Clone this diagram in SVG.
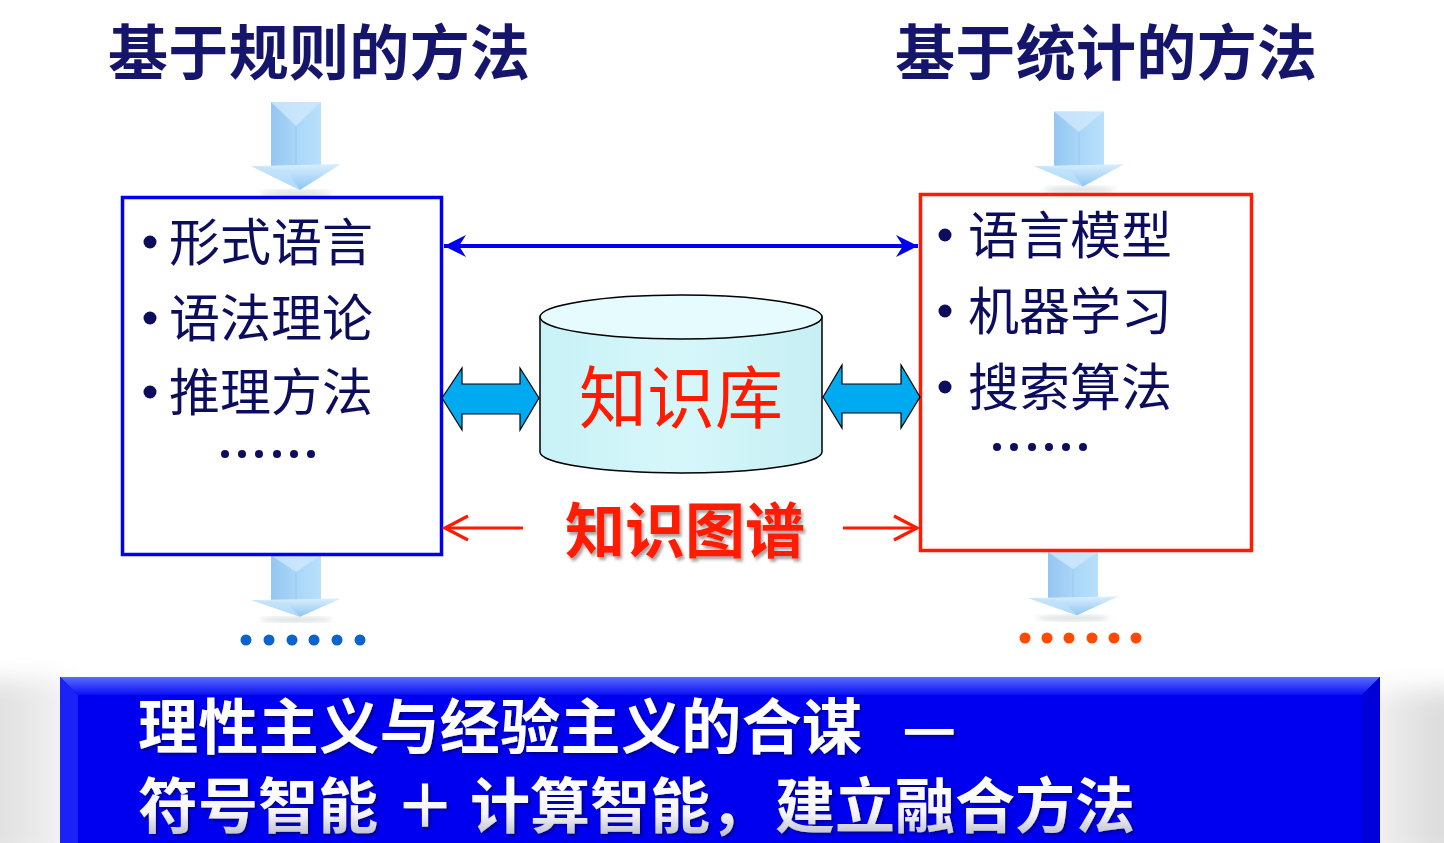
<svg xmlns="http://www.w3.org/2000/svg" width="1444" height="843" viewBox="0 0 1444 843">
<defs>
<style>
.title{font-family:"Noto Sans CJK SC","Liberation Sans",sans-serif;font-weight:700;font-size:60px;fill:#15156b;}
.item{font-family:"Noto Sans CJK SC","Liberation Sans",sans-serif;font-weight:400;font-size:51px;fill:#0d0d5e;}
.bul{fill:#0d0d5e;}
.ban{font-family:"Noto Sans CJK SC","Liberation Sans",sans-serif;font-weight:700;font-size:60px;}
.conn-blue{stroke:#0000ee;stroke-width:4;fill:none;}
.conn-red{stroke:#ff1a00;stroke-width:3;fill:none;}
.block{fill:#00aaf0;stroke:#000;stroke-width:1.2;stroke-linejoin:miter;}
</style>
<marker id="blueHead" viewBox="0 0 24 24" refX="22" refY="12" markerWidth="24" markerHeight="24" markerUnits="userSpaceOnUse" orient="auto-start-reverse">
<path d="M0,1 L22,12 L0,23 L7,12 Z" fill="#0000ee"/>
</marker>
<marker id="redHead" viewBox="0 0 26 26" refX="24" refY="13" markerWidth="26" markerHeight="26" markerUnits="userSpaceOnUse" orient="auto" overflow="visible">
<path d="M1,1 L24,13 L1,25" fill="none" stroke="#ff1a00" stroke-width="3.2"/>
</marker>
<linearGradient id="shaft" x1="0" y1="0" x2="1" y2="0">
<stop offset="0" stop-color="#94c6f2"/>
<stop offset="0.5" stop-color="#a9d6f8"/>
<stop offset="1" stop-color="#b9e0fb"/>
</linearGradient>
<linearGradient id="head" x1="0" y1="0" x2="0" y2="1">
<stop offset="0" stop-color="#d8eefd"/>
<stop offset="1" stop-color="#8fc6f2"/>
</linearGradient>
<linearGradient id="cyl" x1="0" y1="0" x2="1" y2="0">
<stop offset="0" stop-color="#c8f2f6"/>
<stop offset="0.5" stop-color="#d6f7fa"/>
<stop offset="1" stop-color="#c6eff4"/>
</linearGradient>
<linearGradient id="banTop" x1="0" y1="0" x2="0" y2="1">
<stop offset="0" stop-color="#5a6cff"/>
<stop offset="1" stop-color="#0a10f4"/>
</linearGradient>
<linearGradient id="txt2" gradientUnits="userSpaceOnUse" x1="0" y1="785" x2="0" y2="838">
<stop offset="0" stop-color="#ffffff"/>
<stop offset="0.55" stop-color="#f4f4f8"/>
<stop offset="1" stop-color="#b8b8c8"/>
</linearGradient>
<linearGradient id="cloudL" x1="0" y1="0" x2="1" y2="0">
<stop offset="0" stop-color="#dcdcdc"/>
<stop offset="1" stop-color="#f2f2f2"/>
</linearGradient>
<linearGradient id="cloudR" x1="0" y1="0" x2="1" y2="0">
<stop offset="0" stop-color="#f0f0f0"/>
<stop offset="1" stop-color="#d6d6d6"/>
</linearGradient>
<filter id="shadow" x="-10%" y="-20%" width="130%" height="150%">
<feDropShadow dx="2" dy="3" stdDeviation="1.5" flood-color="#666" flood-opacity="0.6"/>
</filter>
<filter id="shadowW" x="-5%" y="-20%" width="110%" height="150%">
<feDropShadow dx="2" dy="2" stdDeviation="1.5" flood-color="#000040" flood-opacity="0.6"/>
</filter>
<filter id="blur4"><feGaussianBlur stdDeviation="3"/></filter>
<filter id="blur12" x="-50%" y="-50%" width="200%" height="200%"><feGaussianBlur stdDeviation="12"/></filter>
<g id="downArrow">
<ellipse cx="0" cy="28" rx="36" ry="4" fill="#9aa" opacity="0.35" filter="url(#blur4)"/>
<rect x="-25" y="-64" width="50" height="66" fill="url(#shaft)"/>
<path d="M-25,-64 L25,-64 L0,-40 Z" fill="#cfe9fd" opacity="0.8"/>
<path d="M0,-40 L0,2" stroke="#8cbfee" stroke-width="1" opacity="0.6"/>
<path d="M-45,0 L45,-2 L4,24 Z" fill="url(#head)"/>
<path d="M-45,0 L4,24 L-10,4 Z" fill="#bfe2fb" opacity="0.7"/>
</g>
</defs>

<rect width="1444" height="843" fill="#ffffff"/>
<rect x="-20" y="680" width="90" height="180" fill="url(#cloudL)" filter="url(#blur12)"/>
<rect x="1372" y="690" width="90" height="170" fill="url(#cloudR)" filter="url(#blur12)"/>

<g id="title-rule">
<text class="title" x="108" y="75" textLength="422" lengthAdjust="spacing">基于规则的方法</text>
</g>
<g id="title-stat">
<text class="title" x="895" y="75" textLength="422" lengthAdjust="spacing">基于统计的方法</text>
</g>

<g id="arrow-rule-in"><use href="#downArrow" transform="translate(296,166)"/></g>
<g id="arrow-stat-in"><use href="#downArrow" transform="translate(1079,166) scale(1,0.85)"/></g>
<g id="arrow-rule-out"><use href="#downArrow" transform="translate(296,600) scale(1,0.7)"/></g>
<g id="arrow-stat-out"><use href="#downArrow" transform="translate(1073,598) scale(1,0.72)"/></g>

<g id="box-rule">
<rect x="122.5" y="197.5" width="319" height="357" fill="#fff" stroke="#0000f0" stroke-width="3.5"/>
<circle class="bul" cx="150" cy="242" r="6.5"/>
<text class="item" x="169" y="261">形式语言</text>
<circle class="bul" cx="150" cy="318" r="6.5"/>
<text class="item" x="169" y="337">语法理论</text>
<circle class="bul" cx="150" cy="392" r="6.5"/>
<text class="item" x="169" y="411">推理方法</text>
<g class="bul">
<circle cx="225" cy="454" r="4"/><circle cx="242" cy="454" r="4"/><circle cx="259" cy="454" r="4"/><circle cx="277" cy="454" r="4"/><circle cx="294" cy="454" r="4"/><circle cx="311" cy="454" r="4"/>
</g>
</g>

<g id="box-stat">
<rect x="920.5" y="194.5" width="331" height="356" fill="#fff" stroke="#ff1a00" stroke-width="3.5"/>
<circle class="bul" cx="945" cy="235" r="6.5"/>
<text class="item" x="968" y="254">语言模型</text>
<circle class="bul" cx="945" cy="311" r="6.5"/>
<text class="item" x="968" y="330">机器学习</text>
<circle class="bul" cx="945" cy="387" r="6.5"/>
<text class="item" x="968" y="406">搜索算法</text>
<g class="bul">
<circle cx="997" cy="447" r="4"/><circle cx="1014" cy="447" r="4"/><circle cx="1032" cy="447" r="4"/><circle cx="1049" cy="447" r="4"/><circle cx="1066" cy="447" r="4"/><circle cx="1083" cy="447" r="4"/>
</g>
</g>

<g id="kb">
<path d="M540,317 L540,452 A141,21 0 0,0 822,452 L822,317 Z" fill="url(#cyl)" stroke="#000" stroke-width="1.5"/>
<ellipse cx="681" cy="317" rx="141" ry="22" fill="#e6fbfd" stroke="#000" stroke-width="1.5"/>
<text x="681" y="423" text-anchor="middle" font-family="Noto Sans CJK SC, Liberation Sans, sans-serif" font-size="68" fill="#ff1a00">知识库</text>
</g>

<g id="kg-label">
<text x="685" y="553" text-anchor="middle" font-family="Noto Sans CJK SC, Liberation Sans, sans-serif" font-weight="700" font-size="60" fill="#ff1a00" filter="url(#shadow)" textLength="240" lengthAdjust="spacing">知识图谱</text>
</g>

<g id="connectors">
<line class="conn-blue" x1="444" y1="246" x2="918" y2="246" marker-start="url(#blueHead)" marker-end="url(#blueHead)"/>
<path class="block" d="M442,398 L462,368 L462,384 L520,384 L520,368 L539,398 L520,430 L520,414 L462,414 L462,430 Z"/>
<path class="block" d="M823,397 L842,365 L842,384 L901,384 L901,365 L920,397 L901,428 L901,413 L842,413 L842,428 Z"/>
<line class="conn-red" x1="523" y1="528" x2="445" y2="528" marker-end="url(#redHead)"/>
<line class="conn-red" x1="843" y1="528" x2="917" y2="528" marker-end="url(#redHead)"/>
</g>

<g id="dots-rule" fill="#0a64cc">
<circle cx="246" cy="640" r="5.5"/><circle cx="269" cy="640" r="5.5"/><circle cx="292" cy="640" r="5.5"/><circle cx="314" cy="640" r="5.5"/><circle cx="337" cy="640" r="5.5"/><circle cx="360" cy="640" r="5.5"/>
</g>
<g id="dots-stat" fill="#ff4a00">
<circle cx="1025" cy="638" r="5.5"/><circle cx="1047" cy="638" r="5.5"/><circle cx="1069" cy="638" r="5.5"/><circle cx="1092" cy="638" r="5.5"/><circle cx="1114" cy="638" r="5.5"/><circle cx="1136" cy="638" r="5.5"/>
</g>

<g id="banner">
<rect x="60" y="677" width="1320" height="166" fill="#0000f0"/>
<path d="M60,677 L1380,677 L1362,695 L78,695 Z" fill="url(#banTop)"/>
<path d="M60,677 L78,695 L78,843 L60,843 Z" fill="#1a22f6"/>
<path d="M1380,677 L1362,695 L1362,843 L1380,843 Z" fill="#0000d8"/>
<text class="ban" x="138" y="749" fill="#ffffff" filter="url(#shadowW)" textLength="724" lengthAdjust="spacing">理性主义与经验主义的合谋</text>
<text class="ban" x="902" y="749" fill="#ffffff" filter="url(#shadowW)">—</text>
<text class="ban" x="138" y="828" fill="url(#txt2)" filter="url(#shadowW)">符号智能</text>
<text class="ban" x="395" y="828" fill="url(#txt2)" filter="url(#shadowW)">＋</text>
<text class="ban" x="470" y="828" fill="url(#txt2)" filter="url(#shadowW)">计算智能，</text>
<text class="ban" x="775" y="828" fill="url(#txt2)" filter="url(#shadowW)">建立融合方法</text>
</g>
</svg>
